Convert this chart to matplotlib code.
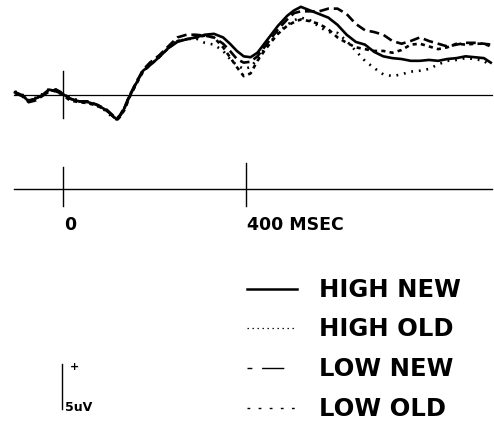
import matplotlib
matplotlib.use("Agg")
from matplotlib import pyplot as plt

plt.rcParams['font.family'] = ['DejaVu Sans']
plt.rcParams['lines.scale_dashes'] = False

# time in msec, amplitude in uV (positive up)
times = [-105, -90, -75, -60, -45, -30, -15, 0, 15, 35, 55, 75, 95, 110, 118, 125, 135, 145,
         160, 175, 190, 210, 230, 250, 270, 290, 310, 330, 350, 365, 380, 395, 410, 425, 440,
         455, 470, 490, 505, 520, 540, 560, 580, 600, 620, 640, 660, 680, 700, 720, 740, 760,
         780, 800, 820, 840, 860, 880, 900, 920, 935]

high_new = [0.3, 0.0, -0.7, -0.4, 0.0, 0.6, 0.4, 0.1, -0.4, -0.7, -0.8, -1.1, -1.7, -2.4, -2.7,
            -2.3, -1.4, -0.2, 1.3, 2.7, 3.3, 4.2, 5.2, 5.9, 6.2, 6.4, 6.7, 6.8, 6.4, 5.7, 4.9,
            4.3, 4.2, 4.7, 5.7, 6.7, 7.7, 8.8, 9.4, 9.8, 9.4, 9.0, 8.6, 7.8, 6.7, 5.9, 5.6, 4.8,
            4.3, 4.1, 4.0, 3.8, 3.8, 3.9, 3.8, 4.0, 4.1, 4.3, 4.2, 4.1, 3.6]
high_old = [0.4, 0.1, -0.6, -0.3, 0.1, 0.7, 0.6, 0.1, -0.3, -0.6, -0.9, -1.2, -1.8, -2.6, -2.7,
            -2.3, -1.3, -0.1, 1.4, 2.8, 3.4, 4.3, 5.3, 6.0, 6.2, 6.3, 5.8, 5.6, 4.9, 4.0, 3.3,
            2.9, 3.1, 4.0, 5.1, 6.0, 6.9, 7.8, 8.3, 8.6, 8.3, 7.6, 7.0, 6.9, 6.0, 4.9, 3.8, 3.0,
            2.3, 2.1, 2.3, 2.6, 2.7, 2.9, 3.4, 3.8, 3.9, 4.1, 4.0, 3.8, 3.2]
low_new = [0.2, -0.1, -0.8, -0.6, -0.1, 0.4, 0.6, 0.2, -0.4, -0.7, -0.7, -1.1, -1.6, -2.3, -2.6,
           -2.2, -1.3, -0.1, 1.4, 2.8, 3.6, 4.4, 5.4, 6.4, 6.7, 6.7, 6.6, 6.4, 5.7, 4.9, 4.0,
           3.6, 3.7, 4.3, 5.3, 6.3, 7.3, 8.4, 9.1, 9.3, 9.3, 9.3, 9.6, 9.6, 9.0, 7.9, 7.2, 7.0,
           6.7, 6.0, 5.7, 6.0, 6.4, 6.0, 5.7, 5.4, 5.6, 5.8, 5.8, 5.7, 5.6]
low_old = [0.3, 0.0, -0.6, -0.4, 0.0, 0.6, 0.4, 0.0, -0.6, -0.8, -0.9, -1.2, -1.7, -2.4, -2.8,
           -2.4, -1.6, -0.3, 1.2, 2.6, 3.3, 4.2, 5.2, 6.0, 6.2, 6.4, 6.6, 6.4, 5.3, 4.2, 3.1,
           2.1, 2.4, 3.8, 4.9, 5.9, 6.8, 7.7, 8.1, 8.4, 8.2, 7.9, 7.3, 6.4, 5.8, 5.3, 5.1, 4.9,
           4.9, 4.7, 5.0, 5.6, 5.7, 5.4, 5.1, 5.3, 5.7, 5.6, 5.7, 5.7, 5.4]

labels = ["HIGH NEW", "HIGH OLD", "LOW NEW", "LOW OLD"]
tick_times = [0, 400]
tick_labels = ["0", "400 MSEC"]
scale_uv = 5

series = [high_new, high_old, low_new, low_old]
styles = ['-', (0, (1.3, 4.2)), (0, (7, 3.5)), (0, (3, 3))]

fig = plt.figure(figsize=(4.94, 4.39), dpi=100)
ax = fig.add_axes([0, 0, 1, 1])
ax.set_xlim(-137.7, 942.1)
ax.set_ylim(-38.11, 10.67)
ax.axis('off')

# baseline and stimulus onset marker
ax.plot([-107, 938], [0, 0], color='black', lw=0.9)
ax.plot([0, 0], [2.7, -2.5], color='black', lw=1.0)

for vals, ls in zip(series, styles):
    ax.plot(times, vals, color='black', linestyle=ls, lw=1.9)

# time axis
ax.plot([-107, 938], [-10.45, -10.45], color='black', lw=1.0)
for t, lab in zip(tick_times, tick_labels):
    ax.plot([t, t], [-8.0 if t == 0 else -7.6, -12.3], color='black', lw=1.0)
    ax.text(t + 2, -14.3, lab, fontsize=12.5, fontweight='bold', ha='left', va='center')

# legend
leg_y = [-21.6, -25.9, -30.3, -34.8]
leg_end = [511, 511, 485, 511]
leg_styles = ['-', (0, (1, 2.6)), (0, (3.5, 7, 16, 20)), (0, (2, 6))]
leg_widths = [1.8, 0.9, 1.0, 1.0]
for y, x1, lab, ls, lw in zip(leg_y, leg_end, labels, leg_styles, leg_widths):
    ax.plot([402, x1], [y, y], color='black', linestyle=ls, lw=lw)
    ax.text(560, y, lab, fontsize=17.5, fontweight='bold', ha='left', va='center')

# amplitude scale bar
ax.plot([-2, -2], [-29.9, -29.9 - scale_uv], color='black', lw=1.0)
ax.text(26, -30.1, '+', fontsize=8, fontweight='bold', ha='center', va='center')
ax.text(5, -34.6, f'{scale_uv}uV', fontsize=9, fontweight='bold', ha='left', va='center')

fig.savefig('out.png', dpi=100)
